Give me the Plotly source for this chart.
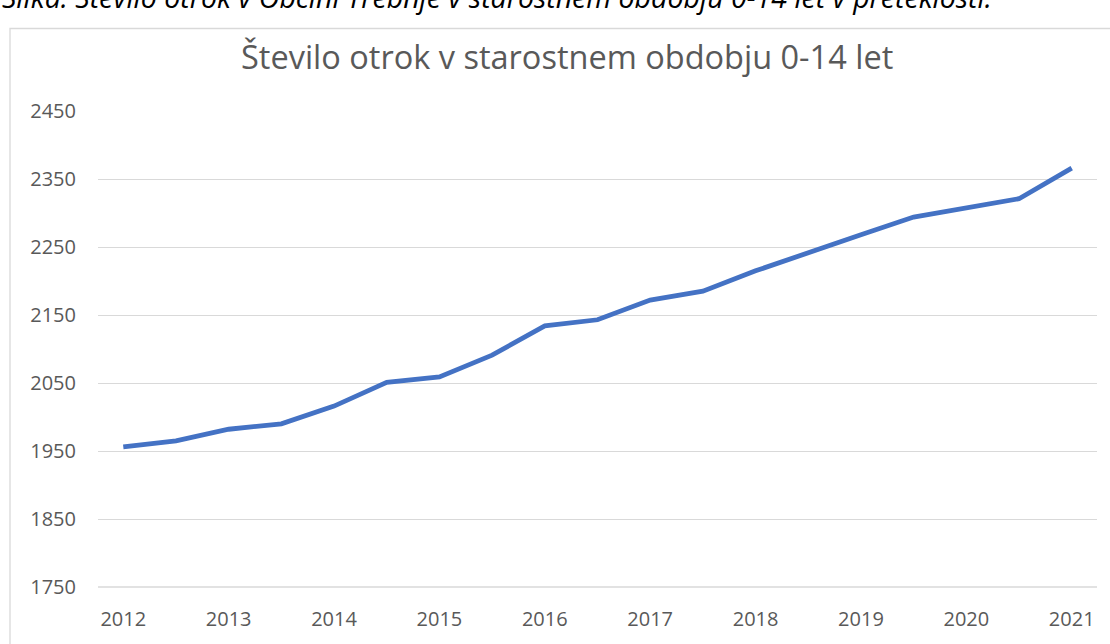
import plotly.graph_objects as go

# Data (half-year steps between labelled years)
periods = [2012, 2012.5, 2013, 2013.5, 2014, 2014.5, 2015, 2015.5, 2016, 2016.5,
           2017, 2017.5, 2018, 2018.5, 2019, 2019.5, 2020, 2020.5, 2021]
children = [1956, 1965, 1982, 1990, 2016, 2051, 2059, 2091, 2134, 2143,
            2172, 2185, 2215, 2242, 2268, 2294, 2308, 2321, 2366]
year_ticks = [2012, 2013, 2014, 2015, 2016, 2017, 2018, 2019, 2020, 2021]
year_labels = [str(y) for y in year_ticks]
y_ticks = [1750, 1850, 1950, 2050, 2150, 2250, 2350, 2450]

W, H = 1110, 644
L, R, T, B = 98, 13, 111, 54
pw, ph = W - L - R, H - T - B

def px_x(p):
    return (p - L) / pw

def px_y(p):
    return (H - B - p) / ph

fig = go.Figure()
fig.add_trace(go.Scatter(
    x=periods, y=children, mode="lines",
    line=dict(color="#4472C4", width=4.8),
    hoverinfo="x+y", showlegend=False,
))

fig.update_layout(
    width=W, height=H,
    margin=dict(l=L, r=R, t=T, b=B),
    paper_bgcolor="white", plot_bgcolor="white",
    font=dict(family="Open Sans", color="#595959"),
    xaxis=dict(
        range=[2011.76, 2021.24], tickvals=year_ticks, ticktext=year_labels,
        showgrid=False, zeroline=False, showline=False,
        tickfont=dict(size=20, color="#595959"),
        ticklabelstandoff=18,
    ),
    yaxis=dict(
        range=[1750, 2450], tickvals=y_ticks,
        showgrid=True, gridcolor="#d9d9d9", gridwidth=1.3,
        zeroline=False, showline=False,
        tickfont=dict(size=20, color="#595959"),
        ticklabelstandoff=21,
    ),
    shapes=[
        dict(type="rect", xref="paper", yref="paper",
             x0=px_x(10), x1=px_x(1120), y0=px_y(660), y1=px_y(28),
             line=dict(color="#d9d9d9", width=1.3), fillcolor="rgba(0,0,0,0)",
             layer="below"),
        dict(type="line", xref="paper", yref="paper",
             x0=0, x1=1, y0=0, y1=0,
             line=dict(color="#d9d9d9", width=1.3), layer="below"),
    ],
    annotations=[
        dict(text="Število otrok v starostnem obdobju 0-14 let",
             xref="paper", yref="paper", x=px_x(567), y=px_y(56),
             xanchor="center", yanchor="middle", showarrow=False,
             font=dict(size=32.5, color="#595959", family="Open Sans")),
        dict(text="<i>Slika: Število otrok v Občini Trebnje v starostnem obdobju 0-14 let v preteklosti.</i>",
             xref="paper", yref="paper", x=px_x(0), y=px_y(-4),
             xanchor="left", yanchor="middle", showarrow=False,
             font=dict(size=28.5, color="#000000", family="Open Sans")),
    ],
)

fig.write_html("out.html", config={"displayModeBar": False},
               post_script="document.body.style.margin='0';document.body.style.overflow='hidden';")
